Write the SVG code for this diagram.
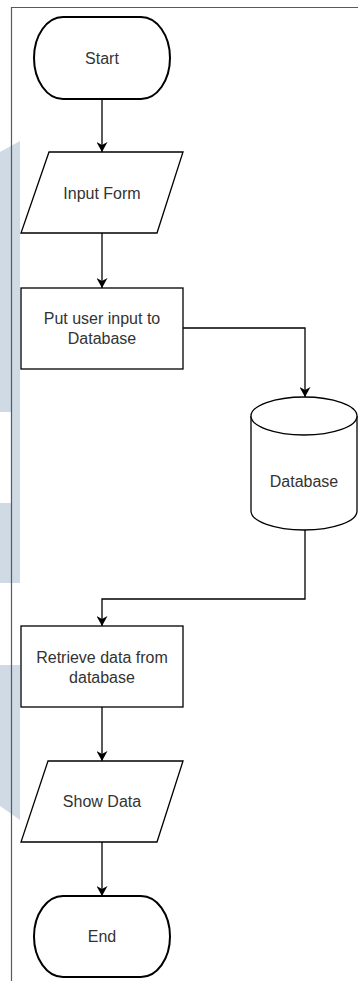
<svg xmlns="http://www.w3.org/2000/svg" width="358" height="981" viewBox="0 0 358 981">
<style>
.wm{fill:#cfdae5;stroke:none}
.frame{fill:none;stroke:#5a5a5a;stroke-width:1.2}
.term{fill:#fff;stroke:#000;stroke-width:2}
.shape{fill:#fff;stroke:#000;stroke-width:1.3}
.edge{fill:none;stroke:#000;stroke-width:1.3}
.lbl{font-family:"Liberation Sans",Arial,sans-serif;font-size:16px;fill:#333;text-anchor:middle;dominant-baseline:central}
</style>
<defs>
<marker id="arr" markerUnits="userSpaceOnUse" viewBox="0 0 10 11" refX="10" refY="5.5" markerWidth="10" markerHeight="11" orient="auto">
<path d="M0,0 L10,5.5 L0,11 L3,5.5 z" fill="#000"/>
</marker>
</defs>
<g id="watermark">
<polygon class="wm" points="0,152 20,141 20,583 0,583 0,503 11,503 11,412 0,412"/>
<polygon class="wm" points="0,665 20,665 20,820 0,806"/>
</g>
<g id="frame">
<line class="frame" x1="11.5" y1="7.5" x2="358" y2="7.5"/>
<line class="frame" x1="11.5" y1="7" x2="11.5" y2="981"/>
</g>
<g id="connectors">
<path class="edge" d="M102,99 V152" marker-end="url(#arr)"/>
<path class="edge" d="M102,233 V288" marker-end="url(#arr)"/>
<path class="edge" d="M183,328 H305 V397" marker-end="url(#arr)"/>
<path class="edge" d="M305,530 V599 H102 V626" marker-end="url(#arr)"/>
<path class="edge" d="M102,707 V761" marker-end="url(#arr)"/>
<path class="edge" d="M102,842 V896" marker-end="url(#arr)"/>
</g>
<g id="start">
<path class="term" d="M63,17 H141 A29,41 0 0 1 141,99 H63 A29,41 0 0 1 63,17 Z"/>
<text class="lbl" x="102" y="58">Start</text>
</g>
<g id="input-form">
<polygon class="shape" points="49,152 183,152 157,233 21,233"/>
<text class="lbl" x="102" y="193">Input Form</text>
</g>
<g id="put-user-input">
<rect class="shape" x="21" y="288" width="162" height="81"/>
<text class="lbl" x="102" y="318">Put user input to</text>
<text class="lbl" x="102" y="338">Database</text>
</g>
<g id="database">
<path class="shape" d="M251,416 A53,19 0 0 1 357,416 V511 A53,19 0 0 1 251,511 Z"/>
<path class="shape" fill="none" d="M251,416 A53,19 0 0 0 357,416"/>
<text class="lbl" x="304" y="481">Database</text>
</g>
<g id="retrieve-data">
<rect class="shape" x="21" y="626" width="162" height="81"/>
<text class="lbl" x="102" y="657">Retrieve data from</text>
<text class="lbl" x="102" y="677">database</text>
</g>
<g id="show-data">
<polygon class="shape" points="48,761 183,761 157,842 21,842"/>
<text class="lbl" x="102" y="801">Show Data</text>
</g>
<g id="end">
<path class="term" d="M63,896 H141 A29,40.5 0 0 1 141,977 H63 A29,40.5 0 0 1 63,896 Z"/>
<text class="lbl" x="102" y="936">End</text>
</g>
</svg>
